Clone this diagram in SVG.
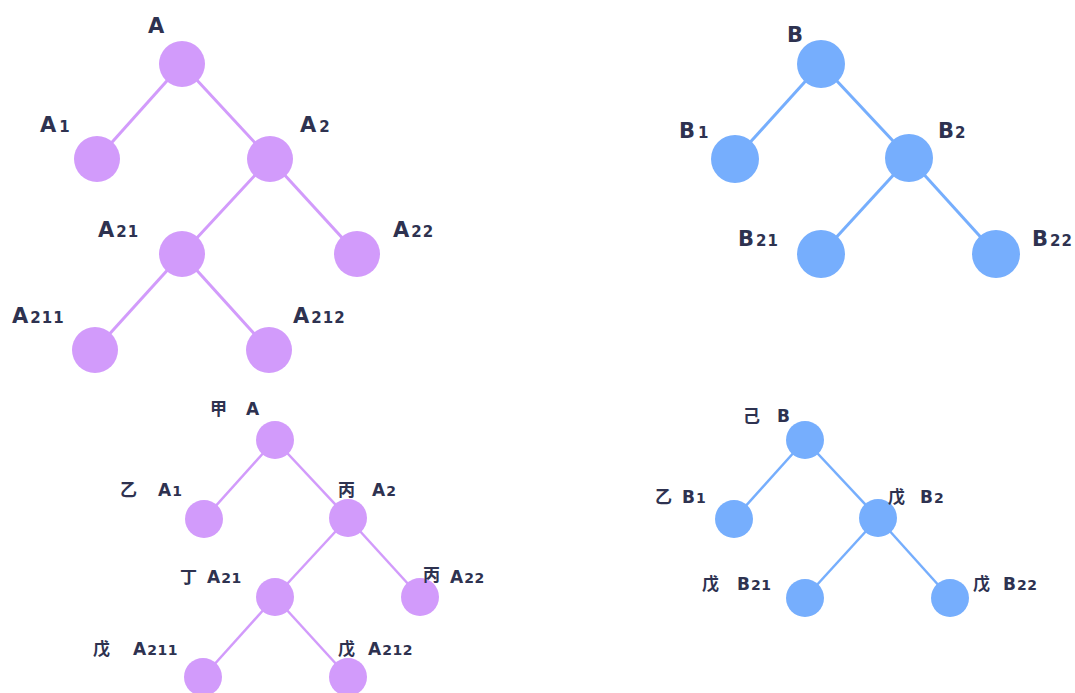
<svg xmlns="http://www.w3.org/2000/svg" width="1075" height="693" viewBox="0 0 1075 693">
<style>
  .pl { stroke: #d29bfb; stroke-width: 3; fill: none; }
  .bl { stroke: #76aefd; stroke-width: 3; fill: none; }
  .ps { stroke-width: 2.5; }
  .pn { fill: #d29bfb; }
  .bn { fill: #76aefd; }
  text { font-family: "DejaVu Sans", "Noto Sans CJK SC", sans-serif; font-weight: bold; fill: #2e3250; }
  .big { font-size: 21px; }
  .bsub { font-size: 15px; letter-spacing: 1px; }
  .sm { font-size: 17px; }
  .ssub { font-size: 14px; letter-spacing: 0.5px; }
  .cjk { font-family: "Noto Sans CJK SC", sans-serif; font-size: 17px; font-weight: bold; }
</style>
<rect width="1075" height="693" fill="#ffffff"/>
<g id="connectors">
  <line class="pl" x1="182" y1="64" x2="97" y2="159"/>
  <line class="pl" x1="182" y1="64" x2="270" y2="159"/>
  <line class="pl" x1="270" y1="159" x2="182" y2="254"/>
  <line class="pl" x1="270" y1="159" x2="357" y2="254"/>
  <line class="pl" x1="182" y1="254" x2="95" y2="350"/>
  <line class="pl" x1="182" y1="254" x2="269" y2="350"/>
  <line class="bl" x1="821" y1="64" x2="735" y2="159"/>
  <line class="bl" x1="821" y1="64" x2="909" y2="158"/>
  <line class="bl" x1="909" y1="158" x2="821" y2="254"/>
  <line class="bl" x1="909" y1="158" x2="996" y2="254"/>
  <line class="pl ps" x1="275" y1="440" x2="204" y2="519"/>
  <line class="pl ps" x1="275" y1="440" x2="348" y2="518"/>
  <line class="pl ps" x1="348" y1="518" x2="275" y2="597"/>
  <line class="pl ps" x1="348" y1="518" x2="420" y2="597"/>
  <line class="pl ps" x1="275" y1="597" x2="203" y2="677"/>
  <line class="pl ps" x1="275" y1="597" x2="348" y2="677"/>
  <line class="bl ps" x1="805" y1="440" x2="734" y2="519"/>
  <line class="bl ps" x1="805" y1="440" x2="878" y2="518"/>
  <line class="bl ps" x1="878" y1="518" x2="805" y2="598"/>
  <line class="bl ps" x1="878" y1="518" x2="950" y2="598"/>
</g>
<!-- top-left tree -->
<g id="tA"><circle class="pn" cx="182" cy="64" r="23"/><text class="big" x="148" y="33">A</text></g>
<g id="tA1"><circle class="pn" cx="97" cy="159" r="23"/><text class="big" x="40" y="132">A<tspan class="bsub" dx="3">1</tspan></text></g>
<g id="tA2"><circle class="pn" cx="270" cy="159" r="23"/><text class="big" x="300" y="132">A<tspan class="bsub" dx="3">2</tspan></text></g>
<g id="tA21"><circle class="pn" cx="182" cy="254" r="23"/><text class="big" x="98" y="237">A<tspan class="bsub" dx="2">21</tspan></text></g>
<g id="tA22"><circle class="pn" cx="357" cy="254" r="23"/><text class="big" x="393" y="237">A<tspan class="bsub" dx="2">22</tspan></text></g>
<g id="tA211"><circle class="pn" cx="95" cy="350" r="23"/><text class="big" x="12" y="323">A<tspan class="bsub" dx="2">211</tspan></text></g>
<g id="tA212"><circle class="pn" cx="269" cy="350" r="23"/><text class="big" x="293" y="323">A<tspan class="bsub" dx="2">212</tspan></text></g>
<!-- top-right tree -->
<g id="tB"><circle class="bn" cx="821" cy="64" r="24"/><text class="big" x="787" y="42">B</text></g>
<g id="tB1"><circle class="bn" cx="735" cy="159" r="24"/><text class="big" x="679" y="138">B<tspan class="bsub" dx="3">1</tspan></text></g>
<g id="tB2"><circle class="bn" cx="909" cy="158" r="24"/><text class="big" x="938" y="138">B<tspan class="bsub" dx="1">2</tspan></text></g>
<g id="tB21"><circle class="bn" cx="821" cy="254" r="24"/><text class="big" x="738" y="246">B<tspan class="bsub" dx="2">21</tspan></text></g>
<g id="tB22"><circle class="bn" cx="996" cy="254" r="24"/><text class="big" x="1032" y="246">B<tspan class="bsub" dx="2">22</tspan></text></g>
<!-- bottom-left tree -->
<g id="bA"><circle class="pn" cx="275" cy="440" r="19"/><text class="sm" y="415"><tspan class="cjk" x="210">甲</tspan><tspan x="246">A</tspan></text></g>
<g id="bA1"><circle class="pn" cx="204" cy="519" r="19"/><text class="sm" y="496"><tspan class="cjk" x="120">乙</tspan><tspan x="158">A</tspan><tspan class="ssub" dx="1">1</tspan></text></g>
<g id="bA2"><circle class="pn" cx="348" cy="518" r="19"/><text class="sm" y="496"><tspan class="cjk" x="338">丙</tspan><tspan x="372">A</tspan><tspan class="ssub" dx="1">2</tspan></text></g>
<g id="bA21"><circle class="pn" cx="275" cy="597" r="19"/><text class="sm" y="583"><tspan class="cjk" x="180">丁</tspan><tspan x="207">A</tspan><tspan class="ssub" dx="1">21</tspan></text></g>
<g id="bA22"><circle class="pn" cx="420" cy="597" r="19"/><text class="sm" y="583"><tspan class="cjk" x="423" dy="-2">丙</tspan><tspan x="450" dy="2">A</tspan><tspan class="ssub" dx="1">22</tspan></text></g>
<g id="bA211"><circle class="pn" cx="203" cy="677" r="19"/><text class="sm" y="655"><tspan class="cjk" x="93">戊</tspan><tspan x="133">A</tspan><tspan class="ssub" dx="1">211</tspan></text></g>
<g id="bA212"><circle class="pn" cx="348" cy="677" r="19"/><text class="sm" y="655"><tspan class="cjk" x="338">戊</tspan><tspan x="368">A</tspan><tspan class="ssub" dx="1">212</tspan></text></g>
<!-- bottom-right tree -->
<g id="bB"><circle class="bn" cx="805" cy="440" r="19"/><text class="sm" y="422"><tspan class="cjk" x="743">己</tspan><tspan x="777">B</tspan></text></g>
<g id="bB1"><circle class="bn" cx="734" cy="519" r="19"/><text class="sm" y="503"><tspan class="cjk" x="655">乙</tspan><tspan x="682">B</tspan><tspan class="ssub" dx="1">1</tspan></text></g>
<g id="bB2"><circle class="bn" cx="878" cy="518" r="19"/><text class="sm" y="503"><tspan class="cjk" x="888">戊</tspan><tspan x="920">B</tspan><tspan class="ssub" dx="1">2</tspan></text></g>
<g id="bB21"><circle class="bn" cx="805" cy="598" r="19"/><text class="sm" y="590"><tspan class="cjk" x="702">戊</tspan><tspan x="737">B</tspan><tspan class="ssub" dx="1">21</tspan></text></g>
<g id="bB22"><circle class="bn" cx="950" cy="598" r="19"/><text class="sm" y="590"><tspan class="cjk" x="973">戊</tspan><tspan x="1003">B</tspan><tspan class="ssub" dx="1">22</tspan></text></g>
</svg>
